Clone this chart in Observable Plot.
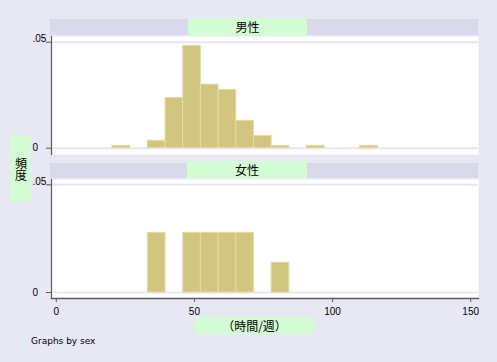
<!DOCTYPE html>
<html>
<head>
<meta charset="utf-8">
<script src="https://cdn.jsdelivr.net/npm/d3@7"></script>
<script src="https://cdn.jsdelivr.net/npm/@observablehq/plot@0.6"></script>
<style>
  html, body { margin: 0; padding: 0; background: #f4f4fa; }
  #wrap { position: relative; width: 497px; height: 362px; overflow: hidden; background: #e8e8f5; }
  .abs { position: absolute; }
  .hdr { background: #d9d9eb; }
  .lbl { background: #d4fcd4; display: flex; align-items: center; justify-content: center;
         font-family: "Noto Sans CJK JP", sans-serif; font-size: 12px; color: #000; line-height: 1; }
  .note { font-family: "DejaVu Sans", sans-serif; font-size: 9px; color: #000; line-height: 9px; }
  svg { overflow: visible; }
</style>
</head>
<body>
<div id="wrap"></div>
<script>
// ---- data ----
const binLower = [19.8, 26.2, 32.6, 39.0, 45.4, 51.8, 58.2, 64.6, 71.0, 77.4, 83.8, 90.2, 96.6, 103.0, 109.4];
const binWidth = 6.4;
const maleDensity   = [0.0011, 0, 0.0035, 0.0237, 0.0483, 0.0300, 0.0275, 0.0129, 0.0058, 0.0011, 0, 0.0011, 0, 0, 0.0011];
const femaleDensity = [0, 0, 0.0277, 0, 0.0277, 0.0277, 0.0277, 0.0277, 0, 0.0138, 0, 0, 0, 0, 0];
const panelLabels = ["男性", "女性"];
const xTicks = [0, 50, 100, 150];
const yTicks = [0, 0.05];
const yTickLabels = ["0", ".05"];
const xTitle = "（時間/週）";
const yTitle = "頻度";
const noteText = "Graphs by sex";

const wrap = document.getElementById("wrap");
function addDiv(cls, style, text) {
  const d = document.createElement("div");
  d.className = "abs " + cls;
  Object.assign(d.style, style);
  if (text != null) d.textContent = text;
  wrap.appendChild(d);
  return d;
}

const barFill = "#d1c57f";
const barStroke = "#e3dba6";
const gridColor = "#e6e6f4";
const axisColor = "#5c5c5c";

function makePanel(values, cfg) {
  const rows = binLower.map((b, i) => ({x1: b, x2: b + binWidth, y: values[i]})).filter(d => d.y > 0);
  const marks = [
    Plot.frame({fill: "white", stroke: null}),
    Plot.ruleY(yTicks, {stroke: gridColor, strokeWidth: 2}),
    Plot.rectY(rows, {x1: "x1", x2: "x2", y: "y", fill: barFill, stroke: barStroke, strokeWidth: 1}),
    Plot.frame({anchor: "left", stroke: axisColor, strokeWidth: 1.2}),
    Plot.axisY({ticks: yTicks, tickSize: 5, stroke: axisColor, tickFormat: () => "", label: null}),
    Plot.text([yTicks[0]], {y: d => d, text: () => yTickLabels[0], frameAnchor: "left", textAnchor: "start", dx: -19, fontSize: 10, fill: "#000"}),
    Plot.text([yTicks[1]], {y: d => d, text: () => yTickLabels[1], frameAnchor: "left", textAnchor: "start", dx: -19, dy: -3.5, fontSize: 10, fill: "#000"})
  ];
  if (cfg.xAxis) {
    marks.push(Plot.frame({anchor: "bottom", stroke: axisColor, strokeWidth: 1.4}));
    marks.push(Plot.axisX({ticks: xTicks, tickSize: 4, tickPadding: 5, stroke: axisColor, fontSize: 10, fill: "#000", dx: -1.5, label: null}));
  }
  const svg = Plot.plot({
    width: 497,
    height: cfg.height,
    marginLeft: 51,
    marginRight: 19,
    marginTop: cfg.marginTop,
    marginBottom: cfg.marginBottom,
    style: {fontFamily: "Liberation Sans, Arial, sans-serif", fontSize: "10px", background: "transparent", color: "#000"},
    x: {domain: [0, 150], insetLeft: 6.3, insetRight: 6.3, axis: null},
    y: {domain: [0, 0.05], insetTop: cfg.insetTop, insetBottom: cfg.insetBottom, axis: null},
    marks
  });
  svg.style.position = "absolute";
  svg.style.left = "0px";
  svg.style.top = cfg.top + "px";
  wrap.appendChild(svg);
}

// headers
addDiv("hdr", {left: "50px", top: "19px", width: "428px", height: "16px"});
addDiv("lbl", {left: "188px", top: "18px", width: "119px", height: "18px"}, panelLabels[0]);
addDiv("hdr", {left: "50px", top: "163px", width: "428px", height: "15px"});
addDiv("lbl", {left: "187px", top: "161px", width: "120px", height: "17px"}, panelLabels[1]);

// panels
makePanel(maleDensity,   {top: 30,  height: 130, marginTop: 6, marginBottom: 6,  insetTop: 5.7, insetBottom: 6.3, xAxis: false});
makePanel(femaleDensity, {top: 173, height: 145, marginTop: 6, marginBottom: 20, insetTop: 5.3, insetBottom: 6,   xAxis: true});

// axis titles and note
addDiv("lbl", {left: "195px", top: "317px", width: "119px", height: "17px"}, xTitle);
const yt = addDiv("lbl", {left: "10px", top: "136px", width: "21px", height: "66px"}, yTitle);
yt.style.writingMode = "vertical-rl";
yt.style.textOrientation = "upright";
addDiv("note", {left: "31px", top: "337px"}, noteText);
</script>
</body>
</html>
